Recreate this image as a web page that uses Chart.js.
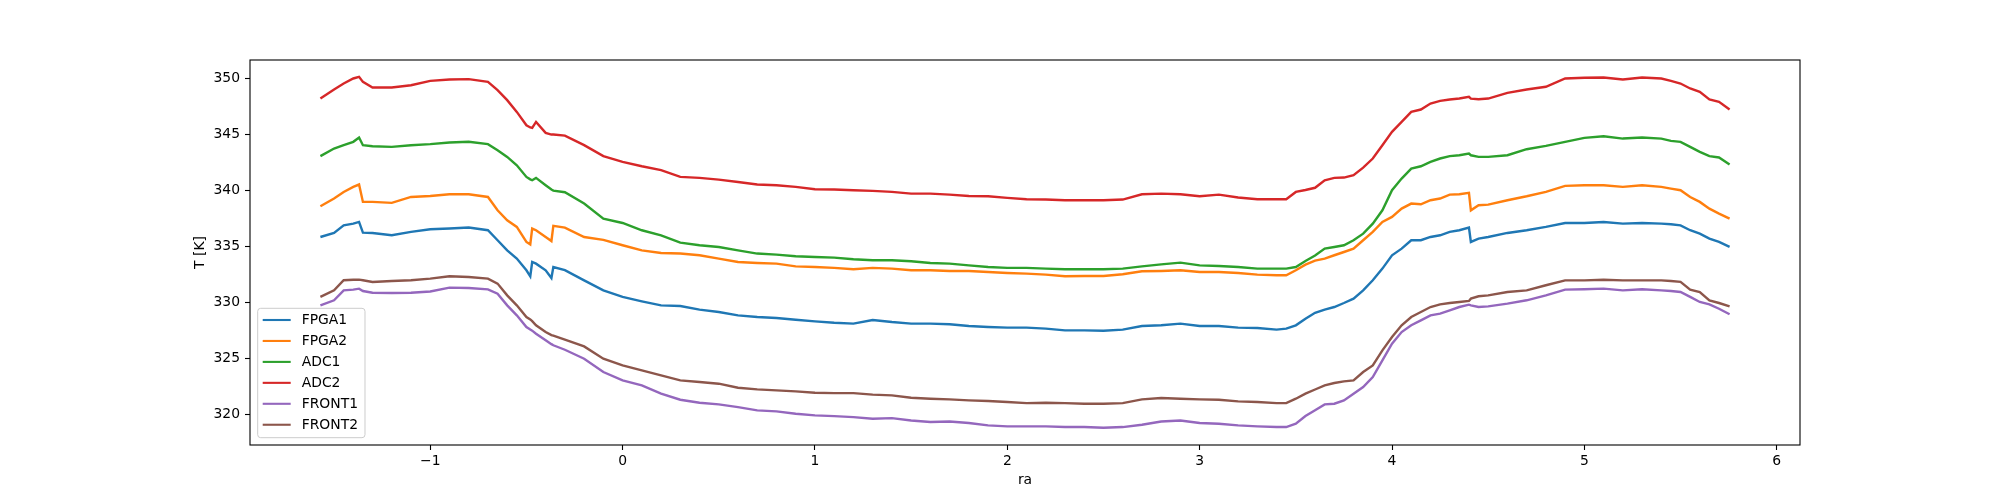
<!DOCTYPE html>
<html>
<head>
<meta charset="utf-8">
<script src="https://cdn.jsdelivr.net/npm/chart.js@4/dist/chart.umd.min.js"></script>
<style>
  html, body { margin: 0; padding: 0; background: #fff; }
  #wrap { width: 2000px; height: 500px; }
</style>
</head>
<body>
<div id="wrap"><canvas id="chart" width="2000" height="500"></canvas></div>
<script>
// ra positions (rad)
const ra = [
  -1.571, -1.5, -1.45, -1.4, -1.37, -1.35, -1.3, -1.2, -1.1, -1.0,
  -0.9, -0.8, -0.7, -0.65, -0.6, -0.55, -0.5, -0.48, -0.47, -0.45,
  -0.4, -0.37, -0.36, -0.3, -0.2, -0.1, 0, 0.1, 0.2, 0.3,
  0.4, 0.5, 0.6, 0.7, 0.8, 0.9, 1.0, 1.1, 1.2, 1.3,
  1.4, 1.5, 1.6, 1.7, 1.8, 1.9, 2.0, 2.1, 2.2, 2.3,
  2.4, 2.5, 2.6, 2.7, 2.8, 2.9, 3.0, 3.1, 3.2, 3.3,
  3.4, 3.45, 3.5, 3.55, 3.6, 3.65, 3.7, 3.75, 3.8, 3.85,
  3.9, 3.95, 4.0, 4.05, 4.1, 4.15, 4.2, 4.25, 4.3, 4.35,
  4.4, 4.41, 4.45, 4.5, 4.6, 4.7, 4.8, 4.9, 5.0, 5.1,
  5.2, 5.3, 5.4, 5.45, 5.5, 5.55, 5.6, 5.65, 5.7, 5.755
];

const fpga1 = [
  335.86, 336.22, 336.9, 337.05, 337.2, 336.25, 336.22, 336.01, 336.31, 336.55,
  336.61, 336.7, 336.46, 335.57, 334.67, 333.93, 332.89, 332.35, 333.63, 333.48,
  332.89, 332.2, 333.18, 332.9, 331.99, 331.1, 330.51, 330.12, 329.76, 329.7,
  329.38, 329.17, 328.87, 328.72, 328.63, 328.48, 328.33, 328.21, 328.13, 328.45,
  328.27, 328.13, 328.13, 328.07, 327.92, 327.83, 327.77, 327.77, 327.68, 327.53,
  327.53, 327.5, 327.59, 327.92, 327.98, 328.13, 327.92, 327.92, 327.77, 327.74,
  327.59, 327.68, 327.98, 328.57, 329.1, 329.38, 329.61, 329.97, 330.36, 331.1,
  332.0, 333.04, 334.23, 334.82, 335.57, 335.57, 335.86, 336.01, 336.31, 336.46,
  336.7, 335.42, 335.71, 335.86, 336.22, 336.46, 336.76, 337.11, 337.11, 337.2,
  337.05, 337.11, 337.05, 336.99, 336.9, 336.46, 336.16, 335.71, 335.42, 334.97
];

const fpga2 = [
  338.6, 339.29, 339.88, 340.33, 340.54, 338.99, 338.99, 338.9, 339.43, 339.52,
  339.67, 339.67, 339.43, 338.24, 337.35, 336.76, 335.42, 335.2, 336.61, 336.46,
  335.86, 335.5, 336.85, 336.7, 335.86, 335.6, 335.12, 334.67, 334.43, 334.38,
  334.23, 333.93, 333.63, 333.54, 333.48, 333.24, 333.18, 333.1, 332.98, 333.1,
  333.04, 332.89, 332.89, 332.83, 332.83, 332.74, 332.65, 332.59, 332.5, 332.35,
  332.38, 332.38, 332.53, 332.8, 332.83, 332.89, 332.74, 332.74, 332.65, 332.5,
  332.44, 332.44, 332.89, 333.39, 333.75, 333.93, 334.23, 334.52, 334.82, 335.57,
  336.31, 337.2, 337.65, 338.39, 338.84, 338.78, 339.14, 339.29, 339.64, 339.67,
  339.79, 338.24, 338.69, 338.75, 339.14, 339.49, 339.88, 340.42, 340.48, 340.48,
  340.33, 340.48, 340.33, 340.18, 340.03, 339.43, 338.99, 338.39, 337.95, 337.5
];

const adc1 = [
  343.07, 343.75, 344.05, 344.35, 344.73, 344.05, 343.96, 343.9, 344.05, 344.14,
  344.29, 344.35, 344.14, 343.6, 343.0, 342.26, 341.22, 341.0, 340.92, 341.13,
  340.48, 340.1, 340.0, 339.85, 338.84, 337.5, 337.11, 336.46, 336.01, 335.36,
  335.12, 334.97, 334.67, 334.38, 334.29, 334.14, 334.08, 334.02, 333.87, 333.78,
  333.78, 333.69, 333.54, 333.48, 333.33, 333.18, 333.1, 333.1, 333.04, 332.98,
  332.98, 332.98, 333.04, 333.24, 333.42, 333.57, 333.33, 333.27, 333.18, 333.04,
  333.04, 333.04, 333.18, 333.71, 334.2, 334.82, 334.97, 335.12, 335.57, 336.16,
  337.05, 338.24, 340.03, 341.07, 341.96, 342.17, 342.56, 342.86, 343.07, 343.15,
  343.3, 343.15, 343.01, 343.01, 343.15, 343.69, 343.99, 344.35, 344.7, 344.85,
  344.64, 344.73, 344.64, 344.43, 344.35, 343.9, 343.45, 343.07, 342.95, 342.32
];

const adc2 = [
  348.21, 349.02, 349.55, 350.0, 350.15, 349.7, 349.2, 349.2, 349.4, 349.79,
  349.91, 349.94, 349.7, 348.96, 348.07, 347.02, 345.83, 345.63, 345.6, 346.13,
  345.15, 345.0, 345.0, 344.9, 344.05, 343.07, 342.56, 342.17, 341.82, 341.22,
  341.13, 340.98, 340.77, 340.54, 340.48, 340.33, 340.12, 340.09, 340.03, 339.97,
  339.88, 339.73, 339.73, 339.64, 339.52, 339.49, 339.35, 339.23, 339.2, 339.14,
  339.14, 339.14, 339.2, 339.67, 339.73, 339.67, 339.49, 339.64, 339.38, 339.23,
  339.23, 339.23, 339.88, 340.05, 340.25, 340.92, 341.13, 341.16, 341.37, 342.05,
  342.86, 344.05, 345.24, 346.13, 347.02, 347.23, 347.77, 348.0, 348.13, 348.21,
  348.36, 348.2, 348.15, 348.21, 348.72, 349.02, 349.26, 350.0, 350.06, 350.09,
  349.91, 350.09, 350.0, 349.79, 349.55, 349.11, 348.81, 348.13, 347.92, 347.23
];

const front1 = [
  329.76, 330.21, 331.1, 331.16, 331.25, 331.04, 330.89, 330.86, 330.89, 331.0,
  331.34, 331.31, 331.19, 330.8, 329.76, 328.87, 327.83, 327.6, 327.5, 327.23,
  326.64, 326.3, 326.2, 325.8, 325.0, 323.81, 323.07, 322.62, 321.88, 321.34,
  321.07, 320.92, 320.68, 320.39, 320.3, 320.09, 319.94, 319.88, 319.79, 319.64,
  319.7, 319.49, 319.35, 319.4, 319.26, 319.05, 318.96, 318.96, 318.96, 318.9,
  318.9, 318.84, 318.9, 319.11, 319.4, 319.49, 319.26, 319.2, 319.05, 318.96,
  318.9, 318.9, 319.2, 319.88, 320.4, 320.92, 320.98, 321.28, 321.88, 322.47,
  323.36, 324.85, 326.34, 327.38, 327.98, 328.42, 328.87, 329.02, 329.32, 329.61,
  329.82, 329.76, 329.61, 329.67, 329.91, 330.21, 330.65, 331.16, 331.19, 331.25,
  331.1, 331.19, 331.1, 331.04, 330.95, 330.51, 330.06, 329.85, 329.46, 328.96
];

const front2 = [
  330.51, 331.1, 332.0, 332.05, 332.05, 332.0, 331.85, 331.93, 332.0, 332.14,
  332.35, 332.29, 332.14, 331.7, 330.65, 329.76, 328.72, 328.5, 328.35, 327.98,
  327.38, 327.1, 327.05, 326.7, 326.1, 325.0, 324.4, 323.96, 323.51, 323.07,
  322.92, 322.77, 322.41, 322.26, 322.17, 322.08, 321.96, 321.93, 321.93, 321.79,
  321.73, 321.52, 321.43, 321.37, 321.28, 321.22, 321.13, 321.04, 321.07, 321.04,
  320.98, 320.98, 321.04, 321.37, 321.49, 321.43, 321.37, 321.34, 321.19, 321.13,
  321.04, 321.04, 321.43, 321.88, 322.25, 322.62, 322.83, 322.98, 323.07, 323.81,
  324.4, 325.74, 326.93, 327.98, 328.72, 329.17, 329.61, 329.85, 329.97, 330.06,
  330.15, 330.36, 330.57, 330.65, 330.95, 331.1, 331.55, 331.99, 331.99, 332.05,
  331.99, 331.99, 331.99, 331.93, 331.85, 331.16, 330.95, 330.21, 329.97, 329.67
];

const seriesNames = ['FPGA1', 'FPGA2', 'ADC1', 'ADC2', 'FRONT1', 'FRONT2'];
const seriesValues = [fpga1, fpga2, adc1, adc2, front1, front2];
const seriesColors = ['#1f77b4', '#ff7f0e', '#2ca02c', '#d62728', '#9467bd', '#8c564b'];

const xTicks = [-1, 0, 1, 2, 3, 4, 5, 6];
const yTicks = [320, 325, 330, 335, 340, 345, 350];

const FONT = { family: 'DejaVu Sans', size: 13.9 };
Chart.defaults.font.family = FONT.family;
Chart.defaults.color = '#000';

const minus = v => String(v).replace('-', '\u2212');

// black box round the plot plus a matplotlib-ish legend in the lower left
const axesFrame = {
    id: 'axesFrame',
    afterDraw(chart) {
        const { ctx, chartArea: a } = chart;
        ctx.save();
        ctx.strokeStyle = '#000';
        ctx.lineWidth = 1.1;
        ctx.strokeRect(a.left, a.top, a.right - a.left, a.bottom - a.top);

        ctx.font = `${FONT.size}px ${FONT.family}`;
        const rowH = 20.95;
        const textW = Math.max(...seriesNames.map(n => ctx.measureText(n).width));
        const boxX = a.left + 7.7;
        const boxH = 129.4;
        const boxY = a.bottom - 7.3 - boxH;
        const boxW = 44 + textW + 7;
        ctx.beginPath();
        ctx.roundRect(boxX, boxY, boxW, boxH, 3);
        ctx.fillStyle = 'rgba(255,255,255,0.8)';
        ctx.fill();
        ctx.strokeStyle = '#cccccc';
        ctx.lineWidth = 1;
        ctx.stroke();

        ctx.textBaseline = 'middle';
        ctx.textAlign = 'left';
        chart.data.datasets.forEach((ds, i) => {
            const y = boxY + 11.7 + i * rowH;
            ctx.beginPath();
            ctx.moveTo(boxX + 5, y);
            ctx.lineTo(boxX + 33, y);
            ctx.strokeStyle = ds.borderColor;
            ctx.lineWidth = 2.1;
            ctx.stroke();
            ctx.fillStyle = '#000';
            ctx.fillText(ds.label, boxX + 44, y + 0.5);
        });
        ctx.restore();
    }
};

const datasets = seriesNames.map((name, i) => ({
    label: name,
    data: ra.map((x, j) => ({ x: x, y: seriesValues[i][j] })),
    borderColor: seriesColors[i],
    backgroundColor: seriesColors[i],
    borderWidth: 2.4,
    pointRadius: 0,
    tension: 0,
    fill: false
}));

new Chart(document.getElementById('chart'), {
    type: 'line',
    data: { datasets: datasets },
    options: {
        responsive: false,
        animation: false,
        layout: { padding: { left: 0, right: 200, top: 60, bottom: 0 } },
        plugins: {
            legend: { display: false },
            tooltip: { enabled: false }
        },
        scales: {
            x: {
                type: 'linear',
                min: -1.937,
                max: 6.121,
                afterBuildTicks: s => { s.ticks = xTicks.map(v => ({ value: v })); },
                afterFit: s => { s.height = 55; },
                border: { display: false },
                grid: { drawOnChartArea: false, tickLength: 5, tickColor: '#000', tickWidth: 1.1 },
                ticks: { font: FONT, color: '#000', padding: 3, maxRotation: 0, autoSkip: false, callback: minus },
                title: { display: true, text: 'ra', font: FONT, color: '#000', padding: { top: 0, bottom: 10.8 } }
            },
            y: {
                type: 'linear',
                min: 317.3,
                max: 351.65,
                afterBuildTicks: s => { s.ticks = yTicks.map(v => ({ value: v })); },
                afterFit: s => { s.width = 250; },
                border: { display: false },
                grid: { drawOnChartArea: false, tickLength: 5, tickColor: '#000', tickWidth: 1.1 },
                ticks: { font: FONT, color: '#000', padding: 5, autoSkip: false, callback: minus },
                title: { display: true, text: 'T [K]', font: FONT, color: '#000', padding: { top: 191.7, bottom: 0 } }
            }
        }
    },
    plugins: [axesFrame]
});
</script>
</body>
</html>
